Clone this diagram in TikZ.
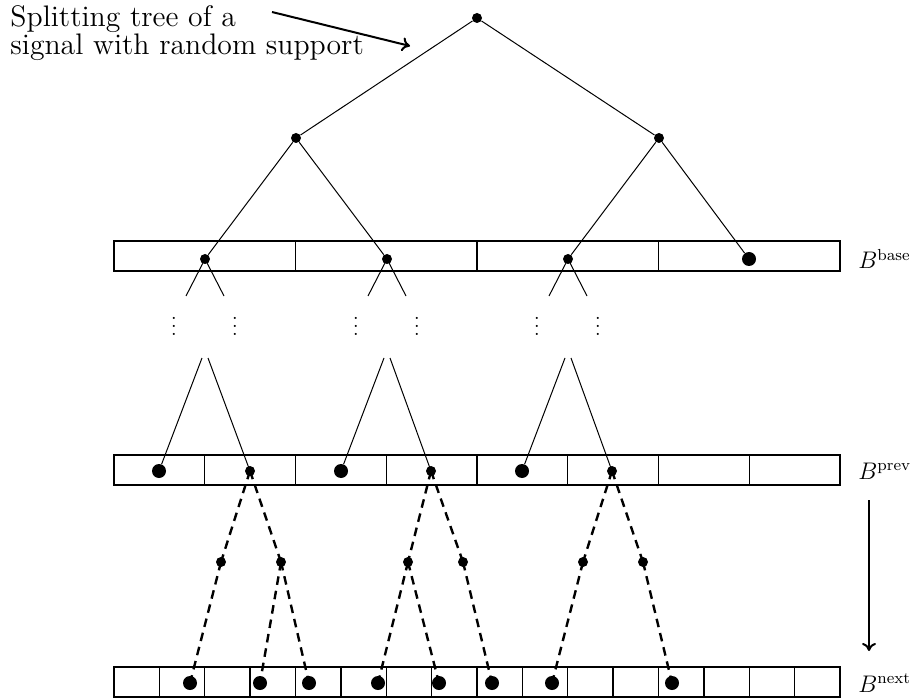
\documentclass[tikz,border=0pt]{standalone}
\usetikzlibrary{arrows.meta}
\begin{document}
\begin{tikzpicture}[x=0.5pt,y=-0.5pt,
  sdot/.style={circle,fill=black,inner sep=0pt,minimum size=5pt},
  bdot/.style={circle,fill=black,inner sep=0pt,minimum size=7pt},
  blob/.style={circle,fill=black,inner sep=0pt,minimum size=7pt},
  vd/.style={inner sep=0pt,font=\fontsize{10}{12}\selectfont},
  tline/.style={line width=0.5pt},
  dline/.style={line width=1.2pt,dash pattern=on 4.3pt off 3pt},
  rowbox/.style={line width=0.7pt},
  lab/.style={anchor=west,inner sep=0pt,font=\fontsize{12}{14}\selectfont},
  big/.style={anchor=base west,inner sep=0pt,font=\fontsize{12}{14}\selectfont,scale=1.2375},
  bigarrow/.style={line width=1pt,-{To[length=4pt,width=7pt]}}
]
\useasboundingbox (0,0) rectangle (915,700);

% text
\node[big] (txt1) at (10,27) {Splitting tree of a};
\node[big] (txt2) at (10,55) {signal with random support};
\coordinate (aS) at (272,12);
\coordinate (aE) at (410,46);
\draw[bigarrow] (aS) -- (aE);

% rows
\draw[rowbox] (114,241) rectangle (840,271);
\foreach \i in {1,...,3} { \draw[rowbox] ({114+181.5*\i},241) -- ({114+181.5*\i},271); }
\draw[rowbox] (114,455) rectangle (840,485);
\foreach \i in {1,...,7} { \draw[rowbox] ({114+90.75*\i},455) -- ({114+90.75*\i},485); }
\draw[rowbox] (114,667) rectangle (840,697);
\foreach \i in {1,...,15} { \draw[rowbox] ({114+45.375*\i},667) -- ({114+45.375*\i},697); }

% top tree
\node[sdot] (root) at (477,18) {};
\node[sdot] (l) at (296,138) {};
\node[sdot] (r) at (659,138) {};
\node[sdot] (b1) at (205,259) {};
\node[sdot] (b2) at (387,259) {};
\node[sdot] (b3) at (568,259) {};
\node[bdot] (b4) at (749,259) {};
\draw[tline] (root) -- (l);
\draw[tline] (root) -- (r);
\draw[tline] (l) -- (b1);
\draw[tline] (l) -- (b2);
\draw[tline] (r) -- (b3);
\draw[tline] (r) -- (b4);

% prev row dots
\node[bdot] (q1) at (159,471) {};
\node[sdot] (p1) at (250,471) {};
\node[bdot] (q2) at (341,471) {};
\node[sdot] (p2) at (431,471) {};
\node[bdot] (q3) at (522,471) {};
\node[sdot] (p3) at (612,471) {};

% stubs, vdots, and lines to prev
\foreach \k/\x in {1/205,2/387,3/568} {
  \coordinate (s\k L) at ({\x-19},296);
  \coordinate (s\k R) at ({\x+19},296);
  \draw[tline] (b\k.center) -- (s\k L);
  \draw[tline] (b\k.center) -- (s\k R);
  \node[vd] (v\k L) at ({\x-31},320) {$\vdots$};
  \node[vd] (v\k R) at ({\x+30},320) {$\vdots$};
  \coordinate (u\k L) at ({\x-3},358);
  \coordinate (u\k R) at ({\x+3},358);
}
\draw[tline] (u1L) -- (q1);
\draw[tline] (u1R) -- (p1.center);
\draw[tline] (u2L) -- (q2);
\draw[tline] (u2R) -- (p2.center);
\draw[tline] (u3L) -- (q3);
\draw[tline] (u3R) -- (p3.center);

% middle dots
\node[sdot] (m1) at (221,562) {};
\node[sdot] (m2) at (281,562) {};
\node[sdot] (m3) at (408,562) {};
\node[sdot] (m4) at (463,562) {};
\node[sdot] (m5) at (583,562) {};
\node[sdot] (m6) at (643,562) {};

% leaves
\node[blob] (n1) at (190,683) {};
\node[blob] (n2) at (260,683) {};
\node[blob] (n3) at (309,683) {};
\node[blob] (n4) at (378,683) {};
\node[blob] (n5) at (439,683) {};
\node[blob] (n6) at (492,683) {};
\node[blob] (n7) at (552,683) {};
\node[blob] (n8) at (672,683) {};

% dashed edges
\draw[dline] (p1.center) -- (m1.center);
\draw[dline] (p1.center) -- (m2.center);
\draw[dline] (p2.center) -- (m3.center);
\draw[dline] (p2.center) -- (m4.center);
\draw[dline] (p3.center) -- (m5.center);
\draw[dline] (p3.center) -- (m6.center);
\draw[dline] (m1.center) -- (n1.center);
\draw[dline] (m2.center) -- (n2.center);
\draw[dline] (m2.center) -- (n3.center);
\draw[dline] (m3.center) -- (n4.center);
\draw[dline] (m3.center) -- (n5.center);
\draw[dline] (m4.center) -- (n6.center);
\draw[dline] (m5.center) -- (n7.center);
\draw[dline] (m6.center) -- (n8.center);

% labels
\node[lab] (Lbase) at (858,259) {$B^{\mathrm{base}}$};
\node[lab] (Lprev) at (858,471) {$B^{\mathrm{prev}}$};
\node[lab] (Lnext) at (858,683) {$B^{\mathrm{next}}$};
\coordinate (vS) at (869,500);
\coordinate (vE) at (869,651);
\draw[bigarrow] (vS) -- (vE);
\end{tikzpicture}
\end{document}
